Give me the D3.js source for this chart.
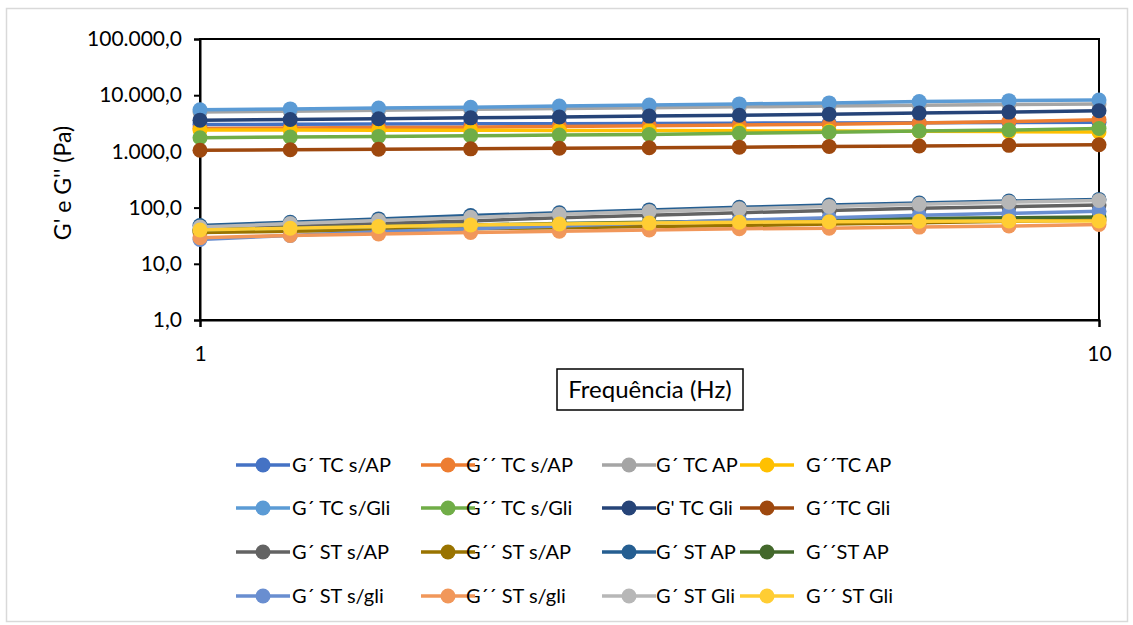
<!DOCTYPE html>
<html>
<head>
<meta charset="utf-8">
<script src="https://cdn.jsdelivr.net/npm/d3@7"></script>
<style>
  body { margin: 0; background: #fff; }
  svg text { font-family: Lato, "Open Sans", sans-serif; fill: #000; }
</style>
</head>
<body>
<div id="chart"></div>
<script>
// frequencies (Hz)
var freq = [1, 1.26, 1.58, 2, 2.51, 3.16, 3.98, 5.01, 6.31, 7.94, 10];

// G' and G'' (Pa)
var gTCsAP    = [3000, 3030, 3060, 3090, 3120, 3150, 3180, 3210, 3240, 3270, 3300];
var ggTCsAP   = [2550, 2600, 2650, 2700, 2780, 2850, 2950, 3050, 3200, 3400, 3650];
var gTCAP     = [5000, 5200, 5400, 5600, 5800, 6000, 6200, 6400, 6600, 6800, 7000];
var ggTCAP    = [2400, 2400, 2380, 2380, 2350, 2350, 2320, 2300, 2280, 2250, 2220];
var gTCsGli   = [5500, 5700, 5900, 6100, 6400, 6700, 7000, 7300, 7700, 8000, 8200];
var ggTCsGli  = [1750, 1800, 1850, 1900, 1950, 2000, 2100, 2200, 2300, 2400, 2550];
var gTCGli    = [3600, 3700, 3800, 3950, 4100, 4250, 4400, 4600, 4800, 5000, 5300];
var ggTCGli   = [1050, 1070, 1090, 1110, 1140, 1160, 1190, 1220, 1250, 1280, 1310];
var gSTsAP    = [40, 46, 52, 58, 66, 73, 81, 89, 97, 104, 111];
var ggSTsAP   = [36, 38, 40, 42, 44, 46, 48, 51, 54, 57, 60];
var gSTAP     = [48, 55, 63, 72, 81, 91, 101, 111, 121, 131, 140];
var ggSTAP    = [40, 43, 46, 49, 52, 55, 58, 61, 64, 66, 68];
var gSTsGli   = [27, 32, 37, 42, 47, 53, 60, 66, 73, 79, 86];
var ggSTsGli  = [29, 32, 34, 36, 38, 40, 42, 43, 45, 47, 50];
var gSTGli    = [45, 52, 59, 67, 76, 85, 95, 105, 115, 125, 134];
var ggSTGli   = [40, 43, 46, 49, 51, 53, 55, 56, 57, 58, 58];

var seriesNames = ["G´ TC s/AP", "G´´ TC s/AP", "G´ TC AP", "G´´TC AP",
  "G´ TC s/Gli", "G´´ TC s/Gli", "G' TC Gli", "G´´TC Gli",
  "G´ ST s/AP", "G´´ ST s/AP", "G´ ST AP", "G´´ST AP",
  "G´ ST s/gli", "G´´ ST s/gli", "G´ ST Gli", "G´´ ST Gli"];
var seriesColors = ["#4472C4", "#ED7D31", "#A5A5A5", "#FFC000",
  "#5B9BD5", "#70AD47", "#264478", "#9E480E",
  "#636363", "#997300", "#255E91", "#43682B",
  "#698ED0", "#F1975A", "#B7B7B7", "#FFCD33"];
var seriesValues = [gTCsAP, ggTCsAP, gTCAP, ggTCAP, gTCsGli, ggTCsGli, gTCGli, ggTCGli,
  gSTsAP, ggSTsAP, gSTAP, ggSTAP, gSTsGli, ggSTsGli, gSTGli, ggSTGli];

var yTicks = [1, 10, 100, 1000, 10000, 100000];
var xTicks = [1, 10];

var series = seriesNames.map(function(n, i) {
  return {name: n, color: seriesColors[i],
    points: freq.map(function(f, j) { return {x: f, y: seriesValues[i][j]}; })};
});

var svgWidth = 1133, svgHeight = 625;
var plot = {left: 200, right: 1099, top: 39, bottom: 320};

var svg = d3.select("#chart").append("svg")
  .attr("width", svgWidth)
  .attr("height", svgHeight);

// outer chart border
svg.append("rect")
  .attr("x", 6.5).attr("y", 8.5)
  .attr("width", 1121).attr("height", 613)
  .attr("fill", "#fff")
  .attr("stroke", "#D9D9D9")
  .attr("stroke-width", 1.5);

var x = d3.scaleLog().domain([1, 10]).range([plot.left, plot.right]);
var y = d3.scaleLog().domain([1, 100000]).range([plot.bottom, plot.top]);

var ptBR = d3.formatLocale({decimal: ",", thousands: ".", grouping: [3], currency: ["", ""]});
var fmt = ptBR.format(",.1f");

// plot area box
svg.append("rect")
  .attr("x", plot.left).attr("y", plot.top)
  .attr("width", plot.right - plot.left).attr("height", plot.bottom - plot.top)
  .attr("fill", "none")
  .attr("stroke", "#000")
  .attr("stroke-width", 2);

var yAxis = svg.append("g")
  .attr("transform", "translate(" + plot.left + ",0)")
  .call(d3.axisLeft(y).tickValues(yTicks).tickFormat(fmt).tickSize(6).tickPadding(12));
var xAxis = svg.append("g")
  .attr("transform", "translate(0," + plot.bottom + ")")
  .call(d3.axisBottom(x).tickValues(xTicks).tickFormat(d3.format("d")).tickSize(7).tickPadding(19));

[yAxis, xAxis].forEach(function(a) {
  a.select(".domain").attr("stroke", "#000").attr("stroke-width", 2);
  a.selectAll(".tick line").attr("stroke", "#000").attr("stroke-width", 2);
  a.selectAll(".tick text").attr("font-size", 21).attr("font-family", "Lato");
});

// axis titles
svg.append("text")
  .attr("transform", "translate(71,183) rotate(-90)")
  .attr("text-anchor", "middle")
  .attr("font-size", 23)
  .text("G' e G'' (Pa)");

svg.append("rect")
  .attr("x", 557).attr("y", 369)
  .attr("width", 186).attr("height", 41)
  .attr("fill", "none").attr("stroke", "#000").attr("stroke-width", 1.5);
svg.append("text")
  .attr("x", 650).attr("y", 398)
  .attr("text-anchor", "middle")
  .attr("font-size", 24)
  .text("Frequência (Hz)");

// lines and markers, in series order
var line = d3.line().x(function(d) { return x(d.x); }).y(function(d) { return y(d.y); });

series.forEach(function(s) {
  var g = svg.append("g");
  g.append("path")
    .datum(s.points)
    .attr("d", line)
    .attr("fill", "none")
    .attr("stroke", s.color)
    .attr("stroke-width", 3.5);
  g.selectAll("circle").data(s.points).enter().append("circle")
    .attr("cx", function(d) { return x(d.x); })
    .attr("cy", function(d) { return y(d.y); })
    .attr("r", 7.5)
    .attr("fill", s.color);
});

// legend: 4 columns x 4 rows
var legLineX = [236, 421, 602, 740];
var legTextX = [292, 466, 656, 806];
var legRowY = [465, 508, 552, 596];

series.forEach(function(s, i) {
  var col = i % 4, row = Math.floor(i / 4);
  var g = svg.append("g").attr("transform", "translate(0," + legRowY[row] + ")");
  g.append("line")
    .attr("x1", legLineX[col]).attr("x2", legLineX[col] + 54)
    .attr("stroke", s.color).attr("stroke-width", 3.5);
  g.append("circle")
    .attr("cx", legLineX[col] + 27).attr("r", 7.5)
    .attr("fill", s.color);
  g.append("text")
    .attr("x", legTextX[col]).attr("y", 7)
    .attr("font-size", 20)
    .text(s.name);
});
</script>
</body>
</html>
